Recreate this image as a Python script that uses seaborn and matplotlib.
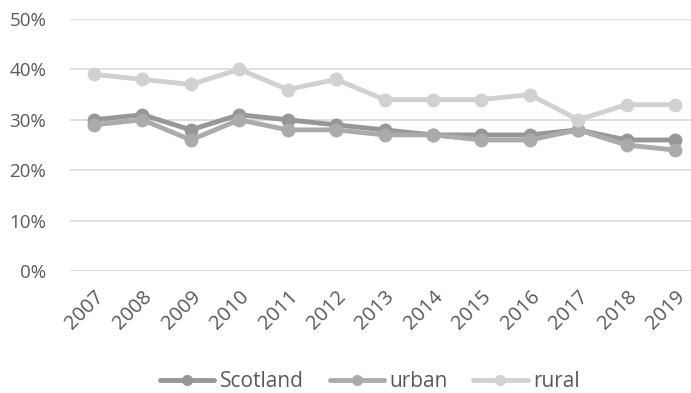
import pandas as pd
import matplotlib.pyplot as plt
import seaborn as sns
from matplotlib.ticker import PercentFormatter

years = [str(y) for y in range(2007, 2020)]
scotland = [30, 31, 28, 31, 30, 29, 28, 27, 27, 27, 28, 26, 26]
urban = [29, 30, 26, 30, 28, 28, 27, 27, 26, 26, 28, 25, 24]
rural = [39, 38, 37, 40, 36, 38, 34, 34, 34, 35, 30, 33, 33]

df = pd.DataFrame({"Year": years, "Scotland": scotland, "urban": urban, "rural": rural})
long_df = df.melt(id_vars="Year", var_name="Area", value_name="Share")

palette = {"Scotland": "#979797", "urban": "#ababab", "rural": "#d1d1d1"}

sns.set_style("white")
plt.rcParams["font.family"] = ["Open Sans", "DejaVu Sans"]

fig = plt.figure(figsize=(6.91, 3.93), dpi=100)
ax = fig.add_axes([0.101, 0.310, 0.899, 0.642])

ax.set_ylim(0, 50)
ax.set_yticks(range(0, 51, 10))
ax.yaxis.grid(True, color="#d9d9d9", linewidth=1.2)
ax.set_axisbelow(True)

sns.lineplot(data=long_df, x="Year", y="Share", hue="Area", palette=palette,
             marker="o", markersize=10, markeredgewidth=0, linewidth=3.5,
             sort=False, ax=ax)

ax.set_xlim(-0.5, 12.33)
ax.yaxis.set_major_formatter(PercentFormatter(decimals=0))
ax.set_xlabel("")
ax.set_ylabel("")
for s in ax.spines.values():
    s.set_visible(False)
ax.tick_params(axis="both", length=0, labelcolor="#595959")
ax.tick_params(axis="y", pad=17, labelsize=13.5)
ax.tick_params(axis="x", pad=11, labelsize=14.5)
plt.setp(ax.get_xticklabels(), rotation=45, ha="right", rotation_mode="anchor")

ax.legend(loc="center", bbox_to_anchor=(0.483, -0.437), ncol=3, frameon=False,
          fontsize=15, labelcolor="#595959", handlelength=2.6, handletextpad=0.25,
          columnspacing=1.25, markerscale=0.8)

plt.savefig("out.png", dpi=100)
